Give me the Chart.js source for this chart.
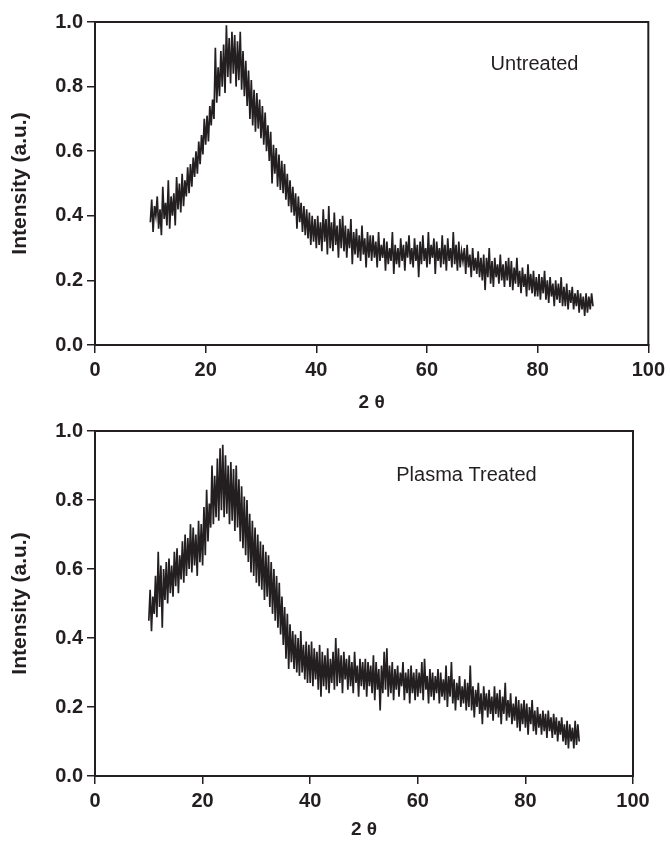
<!DOCTYPE html>
<html>
<head>
<meta charset="utf-8">
<script src="https://cdn.jsdelivr.net/npm/chart.js@4.4.0/dist/chart.umd.min.js"></script>
<style>
    body { margin: 0; background: #fff; }
    #topBox { position: absolute; left: 0; top: 0; }
    #bottomBox { position: absolute; left: 0; top: 415px; }
</style>
</head>
<body>
<div id="topBox"><canvas id="untreated_chart" width="670" height="415"></canvas></div>
<div id="bottomBox"><canvas id="plasma_chart" width="670" height="426"></canvas></div>
<script>
// scan: 2 theta from 10 to 90 deg, 0.25 deg step
var scanStart = 10;
var scanStep = 0.25;

var xTicks = [0, 20, 40, 60, 80, 100];
var yTicks = [0.0, 0.2, 0.4, 0.6, 0.8, 1.0];

// intensity
var untreated = [
    0.38, 0.45, 0.35, 0.43, 0.40, 0.46, 0.36, 0.42, 0.34, 0.49, 0.39, 0.44, 0.37, 0.51, 0.36, 0.46, 0.40, 0.47, 0.37, 0.52,
    0.42, 0.50, 0.41, 0.53, 0.43, 0.51, 0.46, 0.55, 0.47, 0.56, 0.49, 0.58, 0.52, 0.60, 0.53, 0.63, 0.56, 0.65, 0.59, 0.70,
    0.62, 0.71, 0.63, 0.74, 0.68, 0.76, 0.70, 0.92, 0.75, 0.86, 0.77, 0.91, 0.80, 0.93, 0.78, 0.99, 0.83, 0.95, 0.81, 0.97,
    0.84, 0.96, 0.80, 0.94, 0.82, 0.97, 0.79, 0.91, 0.77, 0.88, 0.74, 0.85, 0.70, 0.82, 0.68, 0.79, 0.66, 0.78, 0.67, 0.76,
    0.64, 0.74, 0.62, 0.72, 0.60, 0.68, 0.57, 0.66, 0.50, 0.62, 0.53, 0.61, 0.49, 0.59, 0.48, 0.57, 0.47, 0.56, 0.45, 0.53,
    0.43, 0.51, 0.41, 0.49, 0.40, 0.47, 0.36, 0.46, 0.38, 0.44, 0.35, 0.43, 0.34, 0.42, 0.33, 0.41, 0.31, 0.40, 0.32, 0.39,
    0.30, 0.40, 0.31, 0.38, 0.29, 0.42, 0.32, 0.39, 0.28, 0.43, 0.30, 0.38, 0.29, 0.41, 0.31, 0.37, 0.27, 0.39, 0.30, 0.40,
    0.29, 0.37, 0.27, 0.36, 0.30, 0.39, 0.25, 0.35, 0.28, 0.36, 0.27, 0.34, 0.26, 0.37, 0.28, 0.33, 0.24, 0.35, 0.27, 0.34,
    0.26, 0.34, 0.27, 0.32, 0.24, 0.35, 0.26, 0.31, 0.27, 0.33, 0.23, 0.32, 0.25, 0.30, 0.26, 0.35, 0.22, 0.31, 0.25, 0.30,
    0.24, 0.33, 0.26, 0.31, 0.23, 0.32, 0.27, 0.34, 0.25, 0.30, 0.24, 0.33, 0.26, 0.31, 0.21, 0.32, 0.25, 0.34, 0.26, 0.30,
    0.24, 0.35, 0.25, 0.31, 0.27, 0.33, 0.22, 0.32, 0.26, 0.30, 0.24, 0.34, 0.25, 0.31, 0.23, 0.33, 0.26, 0.30, 0.24, 0.35,
    0.25, 0.31, 0.23, 0.32, 0.24, 0.29, 0.26, 0.30, 0.22, 0.31, 0.24, 0.28, 0.21, 0.30, 0.23, 0.27, 0.22, 0.29, 0.21, 0.27,
    0.20, 0.28, 0.17, 0.27, 0.21, 0.30, 0.19, 0.26, 0.18, 0.27, 0.21, 0.25, 0.19, 0.28, 0.20, 0.25, 0.18, 0.26, 0.20, 0.27,
    0.18, 0.26, 0.17, 0.24, 0.19, 0.27, 0.18, 0.23, 0.16, 0.24, 0.18, 0.22, 0.15, 0.25, 0.17, 0.22, 0.16, 0.23, 0.15, 0.21,
    0.15, 0.22, 0.14, 0.21, 0.16, 0.23, 0.14, 0.20, 0.13, 0.21, 0.15, 0.19, 0.12, 0.20, 0.14, 0.19, 0.13, 0.21, 0.12, 0.18,
    0.12, 0.19, 0.11, 0.17, 0.13, 0.18, 0.11, 0.16, 0.12, 0.17, 0.10, 0.16, 0.11, 0.15, 0.09, 0.16, 0.10, 0.15, 0.11, 0.16,
    0.12
];

// intensity
var plasmaTreated = [
    0.45, 0.54, 0.42, 0.52, 0.47, 0.58, 0.46, 0.65, 0.49, 0.61, 0.43, 0.60, 0.51, 0.62, 0.50, 0.63, 0.53, 0.61, 0.52, 0.65,
    0.55, 0.66, 0.53, 0.64, 0.57, 0.68, 0.56, 0.70, 0.58, 0.69, 0.60, 0.73, 0.59, 0.72, 0.61, 0.70, 0.58, 0.74, 0.62, 0.73,
    0.61, 0.78, 0.64, 0.83, 0.68, 0.79, 0.72, 0.90, 0.73, 0.87, 0.75, 0.92, 0.74, 0.95, 0.77, 0.96, 0.75, 0.93, 0.76, 0.90,
    0.73, 0.91, 0.74, 0.89, 0.71, 0.90, 0.72, 0.86, 0.68, 0.84, 0.66, 0.81, 0.64, 0.80, 0.62, 0.76, 0.59, 0.74, 0.58, 0.72,
    0.56, 0.70, 0.55, 0.68, 0.54, 0.67, 0.51, 0.65, 0.52, 0.64, 0.49, 0.62, 0.47, 0.60, 0.45, 0.58, 0.43, 0.56, 0.41, 0.52,
    0.38, 0.49, 0.34, 0.47, 0.31, 0.44, 0.33, 0.42, 0.31, 0.41, 0.30, 0.40, 0.29, 0.42, 0.30, 0.38, 0.28, 0.39, 0.27, 0.38,
    0.27, 0.39, 0.26, 0.37, 0.28, 0.36, 0.25, 0.38, 0.23, 0.36, 0.26, 0.35, 0.25, 0.37, 0.24, 0.34, 0.27, 0.36, 0.25, 0.40,
    0.26, 0.37, 0.27, 0.35, 0.24, 0.36, 0.28, 0.34, 0.25, 0.35, 0.26, 0.33, 0.24, 0.36, 0.27, 0.32, 0.23, 0.34, 0.26, 0.33,
    0.25, 0.34, 0.23, 0.33, 0.26, 0.32, 0.24, 0.35, 0.22, 0.33, 0.25, 0.31, 0.19, 0.32, 0.24, 0.36, 0.25, 0.37, 0.23, 0.32,
    0.24, 0.33, 0.22, 0.31, 0.25, 0.32, 0.23, 0.30, 0.26, 0.33, 0.22, 0.30, 0.24, 0.31, 0.21, 0.32, 0.24, 0.30, 0.22, 0.31,
    0.23, 0.30, 0.24, 0.33, 0.22, 0.34, 0.25, 0.29, 0.21, 0.31, 0.23, 0.30, 0.22, 0.29, 0.24, 0.31, 0.21, 0.30, 0.23, 0.28,
    0.22, 0.32, 0.20, 0.29, 0.23, 0.33, 0.21, 0.28, 0.19, 0.27, 0.22, 0.29, 0.20, 0.26, 0.21, 0.28, 0.19, 0.27, 0.20, 0.32,
    0.19, 0.26, 0.17, 0.25, 0.20, 0.27, 0.18, 0.24, 0.15, 0.26, 0.19, 0.24, 0.17, 0.25, 0.18, 0.23, 0.16, 0.26, 0.18, 0.24,
    0.17, 0.25, 0.15, 0.23, 0.18, 0.27, 0.16, 0.22, 0.17, 0.24, 0.15, 0.21, 0.16, 0.23, 0.14, 0.22, 0.13, 0.21, 0.15, 0.22,
    0.14, 0.21, 0.12, 0.20, 0.15, 0.22, 0.13, 0.19, 0.12, 0.20, 0.14, 0.18, 0.12, 0.19, 0.13, 0.18, 0.11, 0.19, 0.13, 0.17,
    0.11, 0.18, 0.12, 0.17, 0.10, 0.16, 0.12, 0.17, 0.10, 0.15, 0.09, 0.16, 0.08, 0.15, 0.10, 0.14, 0.08, 0.16, 0.09, 0.15,
    0.10
];

var ink = '#231f20';
var fontFamily = "'Liberation Sans', Arial, sans-serif";

function toPoints(values) {
    return values.map(function (v, i) {
        return { x: scanStart + i * scanStep, y: v };
    });
}

// draws the closed frame and the sample name inside the plot
var framePlugin = {
    id: 'frameAndLabel',
    afterDatasetsDraw: function (chart, args, opts) {
        var ctx = chart.ctx;
        var a = chart.chartArea;
        ctx.save();
        ctx.strokeStyle = ink;
        ctx.lineWidth = 2;
        ctx.strokeRect(a.left, a.top, a.right - a.left, a.bottom - a.top);
        ctx.fillStyle = ink;
        ctx.font = '20px ' + fontFamily;
        ctx.textBaseline = 'middle';
        ctx.textAlign = 'left';
        ctx.fillText(opts.text, chart.scales.x.getPixelForValue(opts.x), chart.scales.y.getPixelForValue(opts.y));
        ctx.restore();
    }
};

function makeChart(canvasId, values, sample, box) {
    var ctx = document.getElementById(canvasId).getContext('2d');
    return new Chart(ctx, {
        type: 'line',
        data: {
            datasets: [{
                label: sample.text,
                data: toPoints(values),
                borderColor: ink,
                borderWidth: 1.7,
                pointRadius: 0,
                tension: 0,
                fill: false
            }]
        },
        options: {
            responsive: false,
            animation: false,
            layout: { padding: { top: box.top, right: box.right, left: 0, bottom: 0 } },
            plugins: {
                legend: { display: false },
                tooltip: { enabled: false },
                frameAndLabel: sample
            },
            scales: {
                x: {
                    type: 'linear',
                    min: 0,
                    max: 100,
                    afterBuildTicks: function (scale) {
                        scale.ticks = xTicks.map(function (v) { return { value: v }; });
                    },
                    afterFit: function (scale) { scale.height = box.xAxisHeight; },
                    grid: { drawOnChartArea: false, drawTicks: true, tickLength: 8, color: ink, lineWidth: 1.5 },
                    border: { display: true, color: ink, width: 2 },
                    ticks: {
                        color: ink,
                        padding: 5,
                        maxRotation: 0,
                        font: { family: fontFamily, size: 20, weight: 'bold' },
                        callback: function (v) { return v; }
                    },
                    title: {
                        display: true,
                        text: '2 θ',
                        color: ink,
                        padding: { top: 0, bottom: box.titlePad },
                        font: { family: fontFamily, size: 19, weight: 'bold' }
                    }
                },
                y: {
                    min: 0,
                    max: 1,
                    afterBuildTicks: function (scale) {
                        scale.ticks = yTicks.map(function (v) { return { value: v }; });
                    },
                    afterFit: function (scale) { scale.width = 95; },
                    grid: { drawOnChartArea: false, drawTicks: true, tickLength: 8, color: ink, lineWidth: 1.5 },
                    border: { display: true, color: ink, width: 2 },
                    ticks: {
                        color: ink,
                        padding: 4,
                        font: { family: fontFamily, size: 20, weight: 'bold' },
                        callback: function (v) { return v.toFixed(1); }
                    },
                    title: {
                        display: true,
                        text: 'Intensity (a.u.)',
                        color: ink,
                        padding: { top: 8, bottom: 0 },
                        font: { family: fontFamily, size: 21, weight: 'bold' }
                    }
                }
            }
        },
        plugins: [framePlugin]
    });
}

makeChart('untreated_chart', untreated,
    { text: 'Untreated', x: 71.5, y: 0.867 },
    { top: 22, right: 20, xAxisHeight: 70, titlePad: 1 });

makeChart('plasma_chart', plasmaTreated,
    { text: 'Plasma Treated', x: 56, y: 0.872 },
    { top: 16, right: 37, xAxisHeight: 65, titlePad: 0 });
</script>
</body>
</html>
